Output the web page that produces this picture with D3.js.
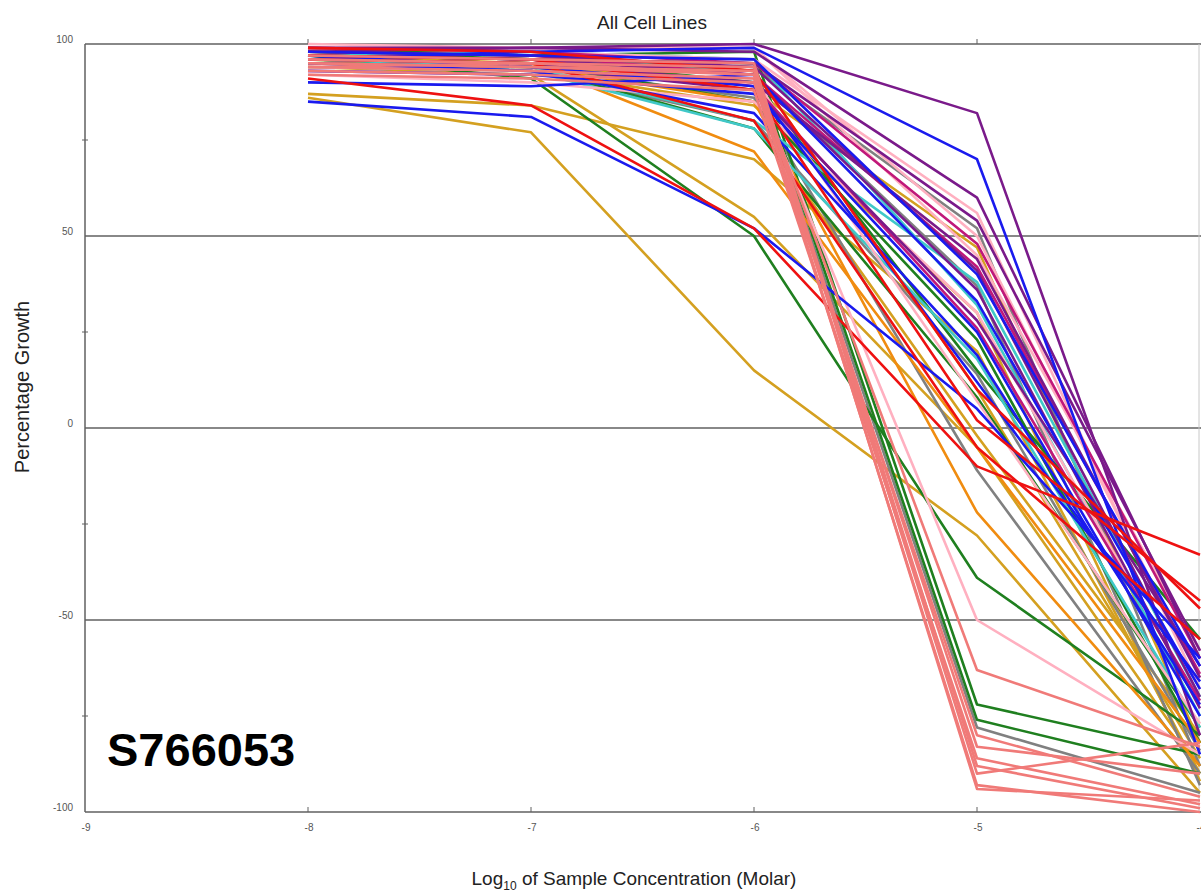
<!DOCTYPE html>
<html>
<head>
<meta charset="utf-8">
<script src="https://cdn.jsdelivr.net/npm/d3@7"></script>
<style>
	body { margin: 0; background: #fff; }
	svg { display: block; font-family: "Liberation Sans", Arial, sans-serif; }
</style>
</head>
<body>
<div id="chart"></div>
<script>
// log10 molar concentrations tested
var doses = [-8, -7, -6, -5, -4];
var xTicks = [-9, -8, -7, -6, -5, -4];
var yTicks = [100, 50, 0, -50, -100];
var yMinorTicks = [75, 25, -25, -75];

// percentage growth per cell line, one row per line, grouped by colour
var redLines = [
	[91, 84, 52, -10, -33],
	[97, 96, 88, 2, -45],
	[99, 98, 93, 10, -47],
	[96, 95, 80, -5, -55]
];
var blueLines = [
	[96, 98, 99, 70, -85],
	[85, 81, 52, 5, -60],
	[90, 89, 92, 33, -68],
	[95, 93, 82, 19, -72],
	[98, 97, 96, 40, -62],
	[93, 92, 87, 25, -75],
	[97, 94, 89, 12, -66]
];
var greenLines = [
	[97, 91, 50, -39, -80],
	[99, 97, 98, -72, -85],
	[98, 96, 95, -76, -90],
	[96, 95, 85, 23, -82],
	[97, 96, 90, 15, -55],
	[95, 94, 78, 8, -78]
];
var goldLines = [
	[86, 77, 15, -28, -95],
	[87, 84, 70, 20, -90],
	[94, 92, 55, -5, -88],
	[97, 95, 88, 47, -82],
	[96, 93, 84, 30, -92],
	[98, 97, 93, 10, -86],
	[95, 94, 80, -2, -80]
];
var purpleLines = [
	[98, 99, 100, 82, -80],
	[99, 99, 98, 60, -60],
	[97, 96, 95, 54, -58],
	[96, 95, 90, 44, -65],
	[98, 97, 94, 41, -70],
	[95, 94, 88, 28, -62],
	[97, 96, 92, 36, -73]
];
var grayLines = [
	[97, 96, 94, 52, -88],
	[96, 95, 92, 37, -93],
	[95, 94, 86, -11, -90],
	[97, 96, 93, -78, -95],
	[94, 93, 80, 14, -84]
];
var turquoiseLines = [
	[97, 98, 96, 32, -75],
	[96, 94, 80, 38, -70],
	[95, 93, 78, 18, -78]
];
var pinkLines = [
	[99, 99, 99, 50, -65],
	[93, 92, 90, -50, -85],
	[99, 98, 96, 56, -68],
	[92, 90, 85, 30, -72],
	[100, 99, 99, 45, -58],
	[94, 93, 91, 7, -77]
];
var orangeLines = [
	[96, 95, 72, -5, -82],
	[95, 94, 85, -22, -88]
];
var magentaLines = [
	[98, 97, 92, 42, -64],
	[97, 96, 89, 26, -71],
	[99, 98, 95, 48, -60]
];
var salmonLines = [
	[94, 95, 92, -63, -83],
	[93, 92, 90, -80, -96],
	[95, 94, 93, -83, -90],
	[92, 91, 88, -86, -98],
	[96, 95, 94, -90, -82],
	[94, 93, 91, -93, -100],
	[95, 94, 92, -94, -97],
	[97, 96, 95, -88, -99]
];

var groups = [
	{ rows: goldLines, color: "#d4a020" },
	{ rows: grayLines, color: "#808080" },
	{ rows: greenLines, color: "#1f7f1f" },
	{ rows: orangeLines, color: "#f08c10" },
	{ rows: turquoiseLines, color: "#40c8c8" },
	{ rows: pinkLines, color: "#ffb0c0" },
	{ rows: magentaLines, color: "#c0187a" },
	{ rows: purpleLines, color: "#7a1a8a" },
	{ rows: blueLines, color: "#1a1aee" },
	{ rows: redLines, color: "#ee1111" },
	{ rows: salmonLines, color: "#f07a78" }
];

var width = 1201,
	height = 892,
	svg = d3.select("#chart").append("svg").attr("width", width).attr("height", height);

var x = d3.scaleLinear().domain([-9, -4]).range([85, 1200]);
var y = d3.scaleLinear().domain([-100, 100]).range([812, 44]);

// horizontal reference lines
svg.append("g").selectAll("line")
	.data(yTicks)
	.enter().append("line")
	.attr("x1", x(-9))
	.attr("x2", width)
	.attr("y1", function (d) { return y(d); })
	.attr("y2", function (d) { return y(d); })
	.style("stroke", "#606060")
	.style("stroke-width", 1.5);

// right border
svg.append("line")
	.attr("x1", x(-4) - 1).attr("x2", x(-4) - 1)
	.attr("y1", y(100)).attr("y2", y(-100))
	.style("stroke", "#c8c8c8")
	.style("stroke-width", 1);

// left axis
svg.append("line")
	.attr("x1", x(-9)).attr("x2", x(-9))
	.attr("y1", y(100)).attr("y2", y(-100))
	.style("stroke", "#606060")
	.style("stroke-width", 1.5);

svg.append("g").selectAll("line")
	.data(yMinorTicks)
	.enter().append("line")
	.attr("x1", x(-9) - 3)
	.attr("x2", x(-9) + 3)
	.attr("y1", function (d) { return y(d); })
	.attr("y2", function (d) { return y(d); })
	.style("stroke", "#606060")
	.style("stroke-width", 1);

svg.append("g").selectAll("text")
	.data(yTicks)
	.enter().append("text")
	.attr("x", x(-9) - 12)
	.attr("y", function (d) { return y(d) - 1; })
	.attr("text-anchor", "end")
	.style("font-size", "10px")
	.style("fill", "#555")
	.text(function (d) { return d; });

// ticks on bottom and top lines
svg.append("g").selectAll("line")
	.data(xTicks.slice(1, 5))
	.enter().append("line")
	.attr("x1", function (d) { return x(d); })
	.attr("x2", function (d) { return x(d); })
	.attr("y1", y(-100))
	.attr("y2", y(-100) - 5)
	.style("stroke", "#606060")
	.style("stroke-width", 1);

svg.append("g").selectAll("line")
	.data(xTicks.slice(1, 5))
	.enter().append("line")
	.attr("x1", function (d) { return x(d); })
	.attr("x2", function (d) { return x(d); })
	.attr("y1", y(100))
	.attr("y2", y(100) - 5)
	.style("stroke", "#606060")
	.style("stroke-width", 1);

svg.append("g").selectAll("text")
	.data(xTicks)
	.enter().append("text")
	.attr("x", function (d) { return x(d) + 1; })
	.attr("y", y(-100) + 19)
	.attr("text-anchor", "middle")
	.style("font-size", "10px")
	.style("fill", "#555")
	.text(function (d) { return d; });

// response curves
var line = d3.line()
	.x(function (d, i) { return x(doses[i]); })
	.y(function (d) { return y(d); });

groups.forEach(function (group) {
	svg.append("g").selectAll("path")
		.data(group.rows)
		.enter().append("path")
		.attr("d", line)
		.style("fill", "none")
		.style("stroke", group.color)
		.style("stroke-width", 2.6)
		.style("stroke-linejoin", "round");
});

// titles
svg.append("text")
	.attr("x", 652)
	.attr("y", 29)
	.attr("text-anchor", "middle")
	.style("font-size", "19px")
	.style("fill", "#222")
	.text("All Cell Lines");

svg.append("text")
	.attr("transform", "translate(29," + 387 + ") rotate(-90)")
	.attr("text-anchor", "middle")
	.style("font-size", "20px")
	.style("fill", "#222")
	.text("Percentage Growth");

var xTitle = svg.append("text")
	.attr("x", 634)
	.attr("y", 885)
	.attr("text-anchor", "middle")
	.style("font-size", "19px")
	.style("fill", "#222");
xTitle.append("tspan").text("Log");
xTitle.append("tspan").attr("dy", 5).style("font-size", "12px").text("10");
xTitle.append("tspan").attr("dy", -5).text(" of Sample Concentration (Molar)");

svg.append("text")
	.attr("x", 107)
	.attr("y", 766)
	.style("font-size", "47px")
	.style("font-weight", "bold")
	.style("fill", "#000")
	.text("S766053");
</script>
</body>
</html>
